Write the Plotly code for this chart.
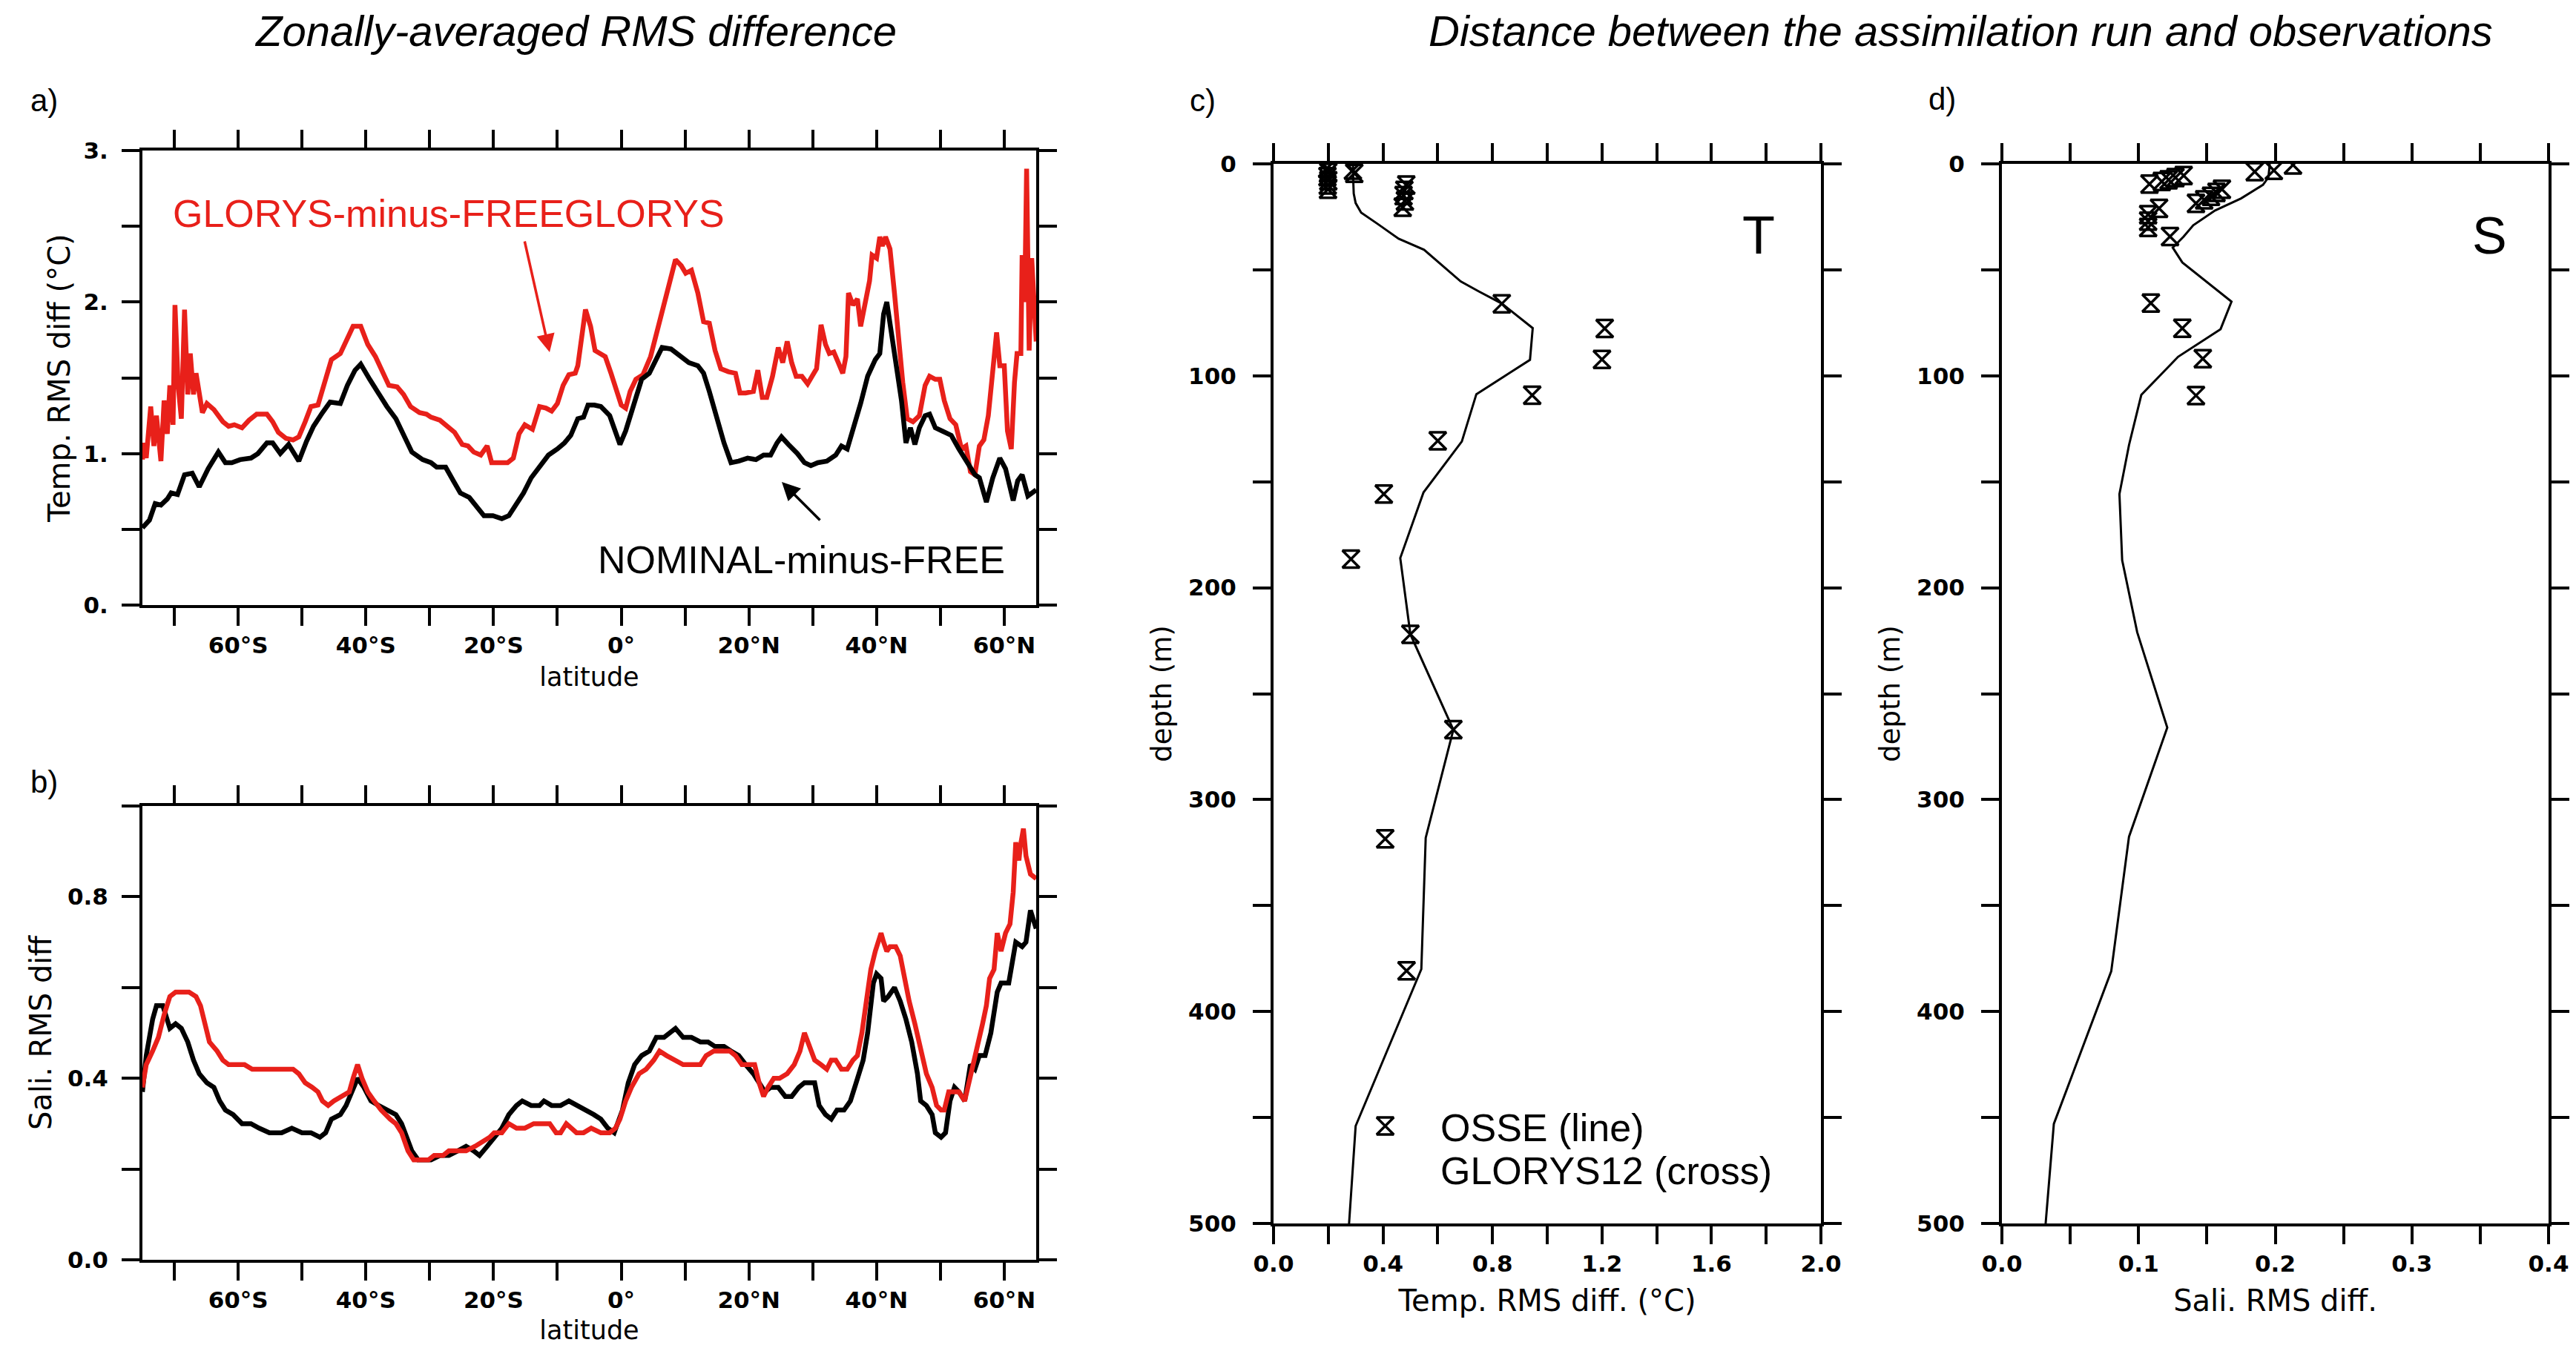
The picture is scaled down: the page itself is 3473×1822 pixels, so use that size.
import plotly.graph_objects as go

W, H = 3473, 1822

# ---------------- data ----------------
a_nom_lat = [-75.0, -73.9, -73.0, -72.1, -71.1, -70.5, -69.5, -68.4, -67.2, -66.1, -64.7, -63.1, -62.0, -61.0, -59.7, -58.0, -56.9, -55.5, -54.6, -53.4, -52.1, -50.5, -49.3, -48.2, -46.8, -45.6, -44.0, -42.9, -41.7, -40.8, -39.4, -38.0, -36.7, -35.3, -34.1, -32.8, -31.1, -29.8, -28.9, -27.5, -26.3, -25.2, -23.8, -22.4, -21.5, -20.1, -18.7, -17.6, -16.4, -15.3, -14.1, -12.8, -11.4, -10.0, -8.9, -7.9, -6.8, -5.9, -5.2, -4.2, -3.2, -1.8, -0.9, -0.2, 0.7, 1.8, 3.2, 4.4, 5.5, 6.4, 7.8, 9.2, 10.6, 12.0, 12.9, 13.8, 14.9, 16.1, 17.2, 18.4, 19.8, 21.1, 22.3, 23.4, 24.4, 25.1, 26.2, 27.6, 28.7, 29.7, 30.8, 32.2, 33.6, 34.5, 35.4, 36.3, 37.5, 38.6, 39.8, 40.5, 41.1, 41.6, 42.3, 43.0, 43.9, 44.6, 45.3, 46.0, 46.7, 47.6, 48.3, 49.2, 50.6, 51.7, 52.9, 54.3, 55.4, 56.1, 57.2, 58.2, 59.3, 60.2, 61.4, 62.1, 62.8, 63.7, 65.0]
a_nom_val = [0.51, 0.56, 0.67, 0.66, 0.70, 0.74, 0.73, 0.86, 0.87, 0.78, 0.90, 1.01, 0.94, 0.94, 0.96, 0.97, 1.00, 1.07, 1.07, 1.00, 1.06, 0.95, 1.08, 1.18, 1.27, 1.34, 1.33, 1.45, 1.55, 1.59, 1.49, 1.39, 1.31, 1.23, 1.13, 1.01, 0.96, 0.94, 0.91, 0.91, 0.82, 0.74, 0.71, 0.63, 0.59, 0.59, 0.57, 0.59, 0.67, 0.74, 0.84, 0.91, 0.99, 1.03, 1.07, 1.12, 1.23, 1.24, 1.32, 1.32, 1.31, 1.25, 1.13, 1.06, 1.15, 1.31, 1.49, 1.53, 1.62, 1.70, 1.69, 1.64, 1.60, 1.58, 1.53, 1.41, 1.25, 1.07, 0.94, 0.95, 0.97, 0.96, 0.99, 0.99, 1.07, 1.11, 1.06, 1.00, 0.94, 0.92, 0.94, 0.95, 0.99, 1.05, 1.03, 1.15, 1.33, 1.51, 1.62, 1.66, 1.92, 2.00, 1.80, 1.64, 1.35, 1.07, 1.17, 1.06, 1.17, 1.25, 1.26, 1.17, 1.14, 1.12, 1.03, 0.94, 0.86, 0.84, 0.68, 0.84, 0.97, 0.90, 0.69, 0.82, 0.86, 0.72, 0.76]

a_glo_lat = [-75.0, -74.8, -74.4, -73.7, -73.2, -72.8, -72.1, -71.6, -71.1, -70.7, -70.2, -69.9, -69.4, -68.9, -68.4, -67.9, -67.5, -67.0, -66.6, -66.1, -65.6, -64.9, -63.8, -62.4, -61.5, -60.6, -59.4, -58.3, -57.1, -55.5, -54.6, -53.7, -52.5, -51.4, -50.5, -49.5, -48.6, -47.5, -46.3, -45.4, -44.0, -43.1, -42.0, -40.8, -39.7, -38.5, -37.4, -36.4, -35.1, -34.1, -33.0, -31.6, -30.5, -29.8, -28.4, -27.2, -26.1, -24.9, -24.0, -23.1, -22.0, -21.0, -20.3, -19.2, -17.8, -16.9, -16.0, -15.1, -13.9, -12.8, -11.8, -10.9, -10.0, -9.1, -8.2, -7.2, -6.8, -5.6, -4.8, -4.1, -3.2, -2.5, -1.6, -0.7, 0.0, 0.7, 1.4, 2.3, 3.4, 4.6, 5.7, 6.9, 7.8, 8.5, 9.4, 10.1, 11.0, 12.0, 12.9, 13.8, 14.7, 15.6, 16.8, 17.9, 18.6, 19.5, 20.7, 21.4, 22.1, 22.8, 23.7, 24.6, 25.3, 26.0, 26.7, 27.4, 28.3, 29.2, 29.9, 30.6, 31.3, 32.0, 32.6, 33.3, 34.0, 34.7, 35.2, 35.6, 36.3, 37.0, 37.5, 38.2, 38.9, 39.3, 40.0, 40.5, 40.9, 41.4, 42.1, 42.8, 43.4, 44.1, 44.8, 45.7, 46.7, 47.6, 48.3, 49.2, 49.9, 50.6, 51.5, 52.4, 53.3, 54.0, 54.7, 55.4, 56.1, 56.8, 57.5, 58.2, 58.8, 59.3, 60.0, 60.5, 61.1, 61.6, 62.0, 62.6, 62.8, 63.2, 63.5, 63.9, 64.3, 65.0]
a_glo_val = [0.96, 1.07, 0.97, 1.31, 1.05, 1.25, 0.95, 1.35, 1.13, 1.45, 1.19, 1.98, 1.45, 1.23, 1.95, 1.39, 1.66, 1.39, 1.53, 1.39, 1.27, 1.33, 1.29, 1.21, 1.18, 1.19, 1.17, 1.22, 1.26, 1.26, 1.21, 1.14, 1.10, 1.09, 1.11, 1.21, 1.31, 1.32, 1.49, 1.62, 1.66, 1.74, 1.84, 1.84, 1.72, 1.64, 1.53, 1.45, 1.44, 1.39, 1.31, 1.27, 1.26, 1.24, 1.22, 1.18, 1.14, 1.06, 1.05, 1.01, 0.99, 1.05, 0.94, 0.94, 0.94, 0.97, 1.13, 1.19, 1.16, 1.31, 1.30, 1.28, 1.33, 1.45, 1.52, 1.53, 1.58, 1.95, 1.84, 1.68, 1.66, 1.64, 1.53, 1.41, 1.32, 1.30, 1.41, 1.49, 1.52, 1.64, 1.82, 2.02, 2.19, 2.28, 2.24, 2.19, 2.21, 2.06, 1.87, 1.86, 1.68, 1.56, 1.54, 1.53, 1.40, 1.40, 1.41, 1.55, 1.37, 1.37, 1.51, 1.70, 1.60, 1.74, 1.60, 1.51, 1.51, 1.46, 1.51, 1.56, 1.85, 1.72, 1.66, 1.67, 1.60, 1.53, 1.64, 2.06, 1.98, 2.02, 1.84, 2.00, 2.14, 2.31, 2.29, 2.43, 2.37, 2.43, 2.35, 2.06, 1.76, 1.47, 1.23, 1.21, 1.25, 1.45, 1.51, 1.49, 1.49, 1.35, 1.23, 1.19, 1.03, 1.05, 0.88, 0.86, 1.05, 1.09, 1.25, 1.55, 1.80, 1.58, 1.58, 1.15, 1.03, 1.47, 1.66, 1.66, 2.31, 2.00, 2.88, 1.68, 2.29, 1.74]

b_nom_lat = [-75.0, -74.4, -73.4, -72.8, -71.8, -71.1, -70.7, -69.8, -68.9, -67.9, -67.0, -66.1, -64.9, -63.8, -62.9, -62.0, -60.8, -59.4, -58.0, -56.7, -55.1, -53.2, -51.6, -50.0, -48.6, -47.2, -46.3, -45.4, -44.0, -43.1, -42.2, -41.3, -40.3, -39.2, -38.0, -36.7, -35.3, -34.4, -33.7, -32.8, -31.8, -30.9, -29.8, -28.4, -27.0, -25.6, -24.3, -23.1, -22.2, -21.0, -19.9, -18.7, -17.6, -16.4, -15.5, -14.1, -12.8, -12.1, -10.9, -9.5, -8.2, -6.8, -5.4, -4.3, -3.2, -2.1, -1.1, -0.5, 0.2, 1.1, 2.1, 3.2, 4.4, 5.5, 6.7, 7.6, 8.5, 9.7, 11.0, 12.4, 13.6, 14.7, 16.1, 17.2, 18.4, 19.5, 20.7, 21.6, 22.5, 23.4, 24.6, 25.7, 26.7, 27.8, 28.7, 29.7, 30.3, 31.0, 32.0, 32.9, 33.8, 34.9, 35.9, 36.8, 37.9, 38.6, 39.5, 40.0, 40.7, 41.1, 41.8, 42.8, 43.7, 44.6, 45.5, 46.4, 46.9, 47.8, 48.7, 49.2, 50.1, 50.8, 51.5, 52.2, 52.9, 53.8, 54.7, 55.4, 56.1, 57.0, 57.9, 58.9, 59.5, 60.7, 61.4, 61.8, 62.8, 63.4, 64.1, 65.0]
b_nom_val = [0.37, 0.45, 0.53, 0.56, 0.56, 0.53, 0.51, 0.52, 0.51, 0.48, 0.44, 0.41, 0.39, 0.38, 0.35, 0.33, 0.32, 0.30, 0.30, 0.29, 0.28, 0.28, 0.29, 0.28, 0.28, 0.27, 0.28, 0.31, 0.32, 0.34, 0.37, 0.40, 0.38, 0.35, 0.34, 0.33, 0.32, 0.30, 0.27, 0.24, 0.22, 0.22, 0.22, 0.23, 0.23, 0.24, 0.25, 0.24, 0.23, 0.25, 0.27, 0.29, 0.32, 0.34, 0.35, 0.34, 0.34, 0.35, 0.34, 0.34, 0.35, 0.34, 0.33, 0.32, 0.31, 0.29, 0.28, 0.30, 0.33, 0.39, 0.43, 0.45, 0.46, 0.49, 0.49, 0.50, 0.51, 0.49, 0.49, 0.48, 0.48, 0.47, 0.47, 0.46, 0.45, 0.43, 0.41, 0.39, 0.37, 0.38, 0.38, 0.36, 0.36, 0.38, 0.39, 0.39, 0.39, 0.34, 0.32, 0.31, 0.33, 0.33, 0.35, 0.39, 0.44, 0.50, 0.61, 0.63, 0.62, 0.57, 0.58, 0.60, 0.57, 0.53, 0.48, 0.41, 0.35, 0.34, 0.32, 0.28, 0.27, 0.28, 0.35, 0.38, 0.37, 0.35, 0.43, 0.42, 0.45, 0.45, 0.50, 0.59, 0.61, 0.61, 0.67, 0.70, 0.69, 0.70, 0.77, 0.73]

b_glo_lat = [-75.0, -74.4, -73.4, -72.5, -71.6, -70.7, -69.8, -68.9, -67.7, -66.6, -65.9, -65.2, -64.5, -63.3, -62.4, -61.5, -60.1, -59.0, -57.8, -56.4, -54.6, -52.8, -51.4, -50.5, -49.5, -48.4, -47.5, -46.8, -45.9, -45.0, -43.6, -42.6, -42.0, -41.3, -40.6, -39.7, -38.7, -37.6, -36.2, -35.3, -34.4, -33.4, -32.5, -31.4, -30.2, -29.3, -27.9, -27.0, -25.6, -24.3, -22.9, -21.7, -20.6, -19.9, -18.7, -17.6, -16.4, -15.1, -13.7, -12.1, -11.2, -10.2, -9.5, -8.6, -7.9, -7.0, -5.9, -4.7, -3.2, -1.8, -0.9, -0.2, 0.7, 1.6, 2.8, 3.9, 5.1, 6.0, 7.1, 8.3, 9.7, 11.0, 12.4, 13.3, 14.5, 15.9, 17.0, 17.9, 18.9, 20.0, 20.9, 21.6, 22.3, 23.0, 23.9, 24.8, 26.0, 27.1, 28.0, 28.7, 29.4, 30.3, 31.3, 32.2, 32.9, 33.6, 34.5, 35.4, 36.3, 37.0, 37.7, 38.4, 39.1, 39.8, 40.7, 41.1, 41.6, 42.1, 43.0, 43.7, 44.4, 45.1, 46.0, 46.9, 47.8, 48.7, 49.4, 50.1, 50.6, 51.3, 52.2, 52.9, 53.8, 54.5, 55.2, 55.9, 56.6, 57.2, 57.7, 58.4, 58.9, 59.5, 60.2, 60.9, 61.4, 61.8, 62.3, 62.5, 63.0, 63.4, 64.1, 65.0]
b_glo_val = [0.38, 0.43, 0.46, 0.49, 0.54, 0.58, 0.59, 0.59, 0.59, 0.58, 0.56, 0.52, 0.48, 0.46, 0.44, 0.43, 0.43, 0.43, 0.42, 0.42, 0.42, 0.42, 0.42, 0.41, 0.39, 0.38, 0.37, 0.35, 0.34, 0.35, 0.36, 0.37, 0.40, 0.43, 0.40, 0.37, 0.35, 0.33, 0.31, 0.30, 0.28, 0.24, 0.22, 0.22, 0.22, 0.23, 0.23, 0.24, 0.24, 0.24, 0.25, 0.26, 0.27, 0.28, 0.28, 0.30, 0.29, 0.29, 0.30, 0.30, 0.30, 0.28, 0.28, 0.30, 0.29, 0.28, 0.28, 0.29, 0.28, 0.28, 0.29, 0.31, 0.35, 0.38, 0.41, 0.42, 0.44, 0.46, 0.45, 0.44, 0.43, 0.43, 0.43, 0.45, 0.46, 0.46, 0.46, 0.45, 0.43, 0.43, 0.43, 0.39, 0.36, 0.38, 0.40, 0.40, 0.41, 0.43, 0.46, 0.50, 0.47, 0.44, 0.43, 0.42, 0.44, 0.44, 0.42, 0.42, 0.44, 0.45, 0.50, 0.57, 0.64, 0.68, 0.72, 0.70, 0.68, 0.69, 0.69, 0.67, 0.62, 0.57, 0.52, 0.46, 0.41, 0.38, 0.34, 0.33, 0.33, 0.37, 0.37, 0.37, 0.35, 0.39, 0.44, 0.47, 0.52, 0.56, 0.62, 0.64, 0.72, 0.68, 0.72, 0.74, 0.81, 0.92, 0.88, 0.91, 0.95, 0.89, 0.85, 0.84]

c_osse_depth = [0, 2.3, 7, 14, 18.5, 23, 28.3, 35.3, 40.5, 47.4, 55.5, 60.2, 65.9, 77.5, 92.5, 108.7, 131, 155, 186, 222, 267, 318, 380, 454, 500]
c_osse_val = [0.29, 0.291, 0.291, 0.293, 0.30, 0.32, 0.38, 0.457, 0.55, 0.612, 0.684, 0.75, 0.834, 0.947, 0.937, 0.741, 0.688, 0.548, 0.463, 0.50, 0.657, 0.556, 0.54, 0.30, 0.276]
c_glo_depth = [2, 4, 6, 8, 10, 12, 3, 4.5, 10, 12.5, 15, 17.5, 20.5, 66, 77.7, 92.3, 109.2, 130.7, 155.8, 186.5, 222, 267, 318.5, 380.8, 454]
c_glo_val = [0.196, 0.200, 0.197, 0.200, 0.198, 0.199, 0.29, 0.295, 0.485, 0.478, 0.475, 0.480, 0.472, 0.834, 1.21, 1.20, 0.945, 0.60, 0.403, 0.283, 0.50, 0.657, 0.408, 0.486, 0.408]

d_osse_depth = [0, 6.4, 9.9, 16.3, 22, 29, 34.3, 39.5, 46.5, 55.2, 65, 78, 91, 109, 132.7, 155.8, 187, 221, 266, 317.5, 381, 453, 500]
d_osse_val = [0.196, 0.195, 0.191, 0.175, 0.156, 0.140, 0.133, 0.125, 0.132, 0.149, 0.168, 0.160, 0.129, 0.102, 0.093, 0.086, 0.088, 0.099, 0.121, 0.093, 0.080, 0.038, 0.032]
d_glo_depth = [3.7, 3.1, 0.5, 9.5, 8.3, 7.5, 6.5, 5.5, 18.6, 17.0, 15.3, 13.5, 12.0, 21.0, 24.0, 27.0, 30.0, 34.3, 65.7, 77.6, 91.9, 109.3]
d_glo_val = [0.185, 0.199, 0.213, 0.108, 0.117, 0.122, 0.127, 0.133, 0.142, 0.148, 0.153, 0.157, 0.161, 0.115, 0.107, 0.107, 0.107, 0.123, 0.109, 0.132, 0.147, 0.142]

lat_tickvals = [-70, -60, -50, -40, -30, -20, -10, 0, 10, 20, 30, 40, 50, 60]
lat_ticktext = ["", "60°S", "", "40°S", "", "20°S", "", "0°", "", "20°N", "", "40°N", "", "60°N"]
a_ytickvals = [0, 0.5, 1, 1.5, 2, 2.5, 3]
a_yticktext = ["0.", "", "1.", "", "2.", "", "3."]
b_ytickvals = [0, 0.2, 0.4, 0.6, 0.8, 1.0]
b_yticktext = ["0.0", "", "0.4", "", "0.8", ""]
depth_tickvals = [0, 50, 100, 150, 200, 250, 300, 350, 400, 450, 500]
depth_ticktext = ["0", "", "100", "", "200", "", "300", "", "400", "", "500"]
c_xtickvals = [0, 0.2, 0.4, 0.6, 0.8, 1.0, 1.2, 1.4, 1.6, 1.8, 2.0]
c_xticktext = ["0.0", "", "0.4", "", "0.8", "", "1.2", "", "1.6", "", "2.0"]
d_xtickvals = [0, 0.05, 0.1, 0.15, 0.2, 0.25, 0.3, 0.35, 0.4]
d_xticktext = ["0.0", "", "0.1", "", "0.2", "", "0.3", "", "0.4"]

RED = "#E8201A"

# --------------- layout helpers ---------------
def px_x(px):
    return px / W

def px_y(py):
    return 1 - py / H

TICKFONT = dict(family="DejaVu Sans", size=31, color="black", weight="bold")

def axis(domain, rng, tickvals, ticktext, title, tsize, standoff, lblstand, reverse=False):
    d = dict(
        domain=domain, range=rng, tickmode="array", tickvals=tickvals, ticktext=ticktext,
        showline=True, linecolor="black", linewidth=4, mirror="ticks",
        ticks="outside", ticklen=24, tickwidth=4, tickcolor="black",
        showgrid=False, zeroline=False, tickfont=TICKFONT,
        ticklabelstandoff=lblstand, automargin=False,
        title=dict(text=title, font=dict(family="DejaVu Sans", size=tsize, color="black"), standoff=standoff),
    )
    if reverse:
        d["range"] = [rng[1], rng[0]]
    return d

fig = go.Figure()

# panel a
fig.add_trace(go.Scatter(x=a_glo_lat, y=a_glo_val, mode="lines", line=dict(color=RED, width=6.5),
                         xaxis="x", yaxis="y", showlegend=False))
fig.add_trace(go.Scatter(x=a_nom_lat, y=a_nom_val, mode="lines", line=dict(color="black", width=6.5),
                         xaxis="x", yaxis="y", showlegend=False))
# panel b
fig.add_trace(go.Scatter(x=b_nom_lat, y=b_nom_val, mode="lines", line=dict(color="black", width=6.5),
                         xaxis="x2", yaxis="y2", showlegend=False))
fig.add_trace(go.Scatter(x=b_glo_lat, y=b_glo_val, mode="lines", line=dict(color=RED, width=6.5),
                         xaxis="x2", yaxis="y2", showlegend=False))
# panel c
fig.add_trace(go.Scatter(x=c_osse_val, y=c_osse_depth, mode="lines", line=dict(color="black", width=3),
                         xaxis="x3", yaxis="y3", showlegend=False))
fig.add_trace(go.Scatter(x=c_glo_val, y=c_glo_depth, mode="markers",
                         marker=dict(symbol="hourglass-open", size=23, color="black", line=dict(width=3.5, color="black")),
                         xaxis="x3", yaxis="y3", showlegend=False))
# panel d
fig.add_trace(go.Scatter(x=d_osse_val, y=d_osse_depth, mode="lines", line=dict(color="black", width=3),
                         xaxis="x4", yaxis="y4", showlegend=False))
fig.add_trace(go.Scatter(x=d_glo_val, y=d_glo_depth, mode="markers",
                         marker=dict(symbol="hourglass-open", size=23, color="black", line=dict(width=3.5, color="black")),
                         xaxis="x4", yaxis="y4", showlegend=False))

ab_x = [px_x(184), px_x(1389)]
a_y = [px_y(808), px_y(195)]
b_y = [px_y(1691), px_y(1079)]
c_x = [px_x(1709), px_x(2447)]
d_x = [px_x(2691), px_x(3428)]
cd_y = [px_y(1642), px_y(213)]

layout = dict(
    width=W, height=H, margin=dict(l=0, r=0, t=0, b=0, autoexpand=False),
    paper_bgcolor="white", plot_bgcolor="white", showlegend=False,
    xaxis=dict(axis(ab_x, [-75, 65], lat_tickvals, lat_ticktext, "latitude", 35, 14, 0), anchor="y"),
    yaxis=dict(axis(a_y, [0, 3], a_ytickvals, a_yticktext, "Temp. RMS diff (°C)", 40, 6, 12), anchor="x"),
    xaxis2=dict(axis(ab_x, [-75, 65], lat_tickvals, lat_ticktext, "latitude", 35, 12, 0), anchor="y2"),
    yaxis2=dict(axis(b_y, [0, 1], b_ytickvals, b_yticktext, "Sali. RMS diff", 40, 10, 12), anchor="x2"),
    xaxis3=dict(axis(c_x, [0, 2], c_xtickvals, c_xticktext, "Temp. RMS diff. (°C)", 40, 20, 0), anchor="y3"),
    yaxis3=dict(axis(cd_y, [0, 500], depth_tickvals, depth_ticktext, "depth (m)", 37, 12, 16, reverse=True), anchor="x3"),
    xaxis4=dict(axis(d_x, [0, 0.4], d_xtickvals, d_xticktext, "Sali. RMS diff.", 40, 20, 0), anchor="y4"),
    yaxis4=dict(axis(cd_y, [0, 500], depth_tickvals, depth_ticktext, "depth (m)", 37, 12, 16, reverse=True), anchor="x4"),
)
fig.update_layout(**layout)

HEL = "Liberation Sans"
ann = []
def text(xp, yp, s, size, color="black", xanchor="center", italic=False):
    ann.append(dict(x=px_x(xp), y=px_y(yp), xref="paper", yref="paper", text=s, showarrow=False,
                    xanchor=xanchor, yanchor="middle",
                    font=dict(family=HEL, size=size, color=color, style="italic" if italic else "normal")))

text(768, 33, "Zonally-averaged RMS difference", 58, italic=True)
text(2635, 33, "Distance between the assimilation run and observations", 58, italic=True)
text(51, 128, "a)", 42)
text(51, 1046, "b)", 42)
text(1613, 127, "c)", 42)
text(2610, 126, "d)", 42)
text(2363, 309, "T", 72)
text(3348, 310, "S", 70)
text(1932, 1513, "OSSE (line)", 52, xanchor="left")
text(1932, 1571, "GLORYS12 (cross)", 52, xanchor="left")
text(223, 280, "GLORYS-minus-FREEGLORYS", 52, color=RED, xanchor="left")
text(796, 747, "NOMINAL-minus-FREE", 52, xanchor="left")

# arrows
ann.append(dict(x=px_x(733), y=px_y(467), xref="paper", yref="paper", ax=699 - 733, ay=316 - 467,
                axref="pixel", ayref="pixel", text="", showarrow=True, arrowhead=2, arrowsize=1.4,
                arrowwidth=3.5, arrowcolor=RED))
ann.append(dict(x=px_x(1046), y=px_y(642), xref="paper", yref="paper", ax=1099 - 1046, ay=695 - 642,
                axref="pixel", ayref="pixel", text="", showarrow=True, arrowhead=2, arrowsize=1.4,
                arrowwidth=3.5, arrowcolor="black"))
fig.update_layout(annotations=ann)

fig.write_html("out.html")
